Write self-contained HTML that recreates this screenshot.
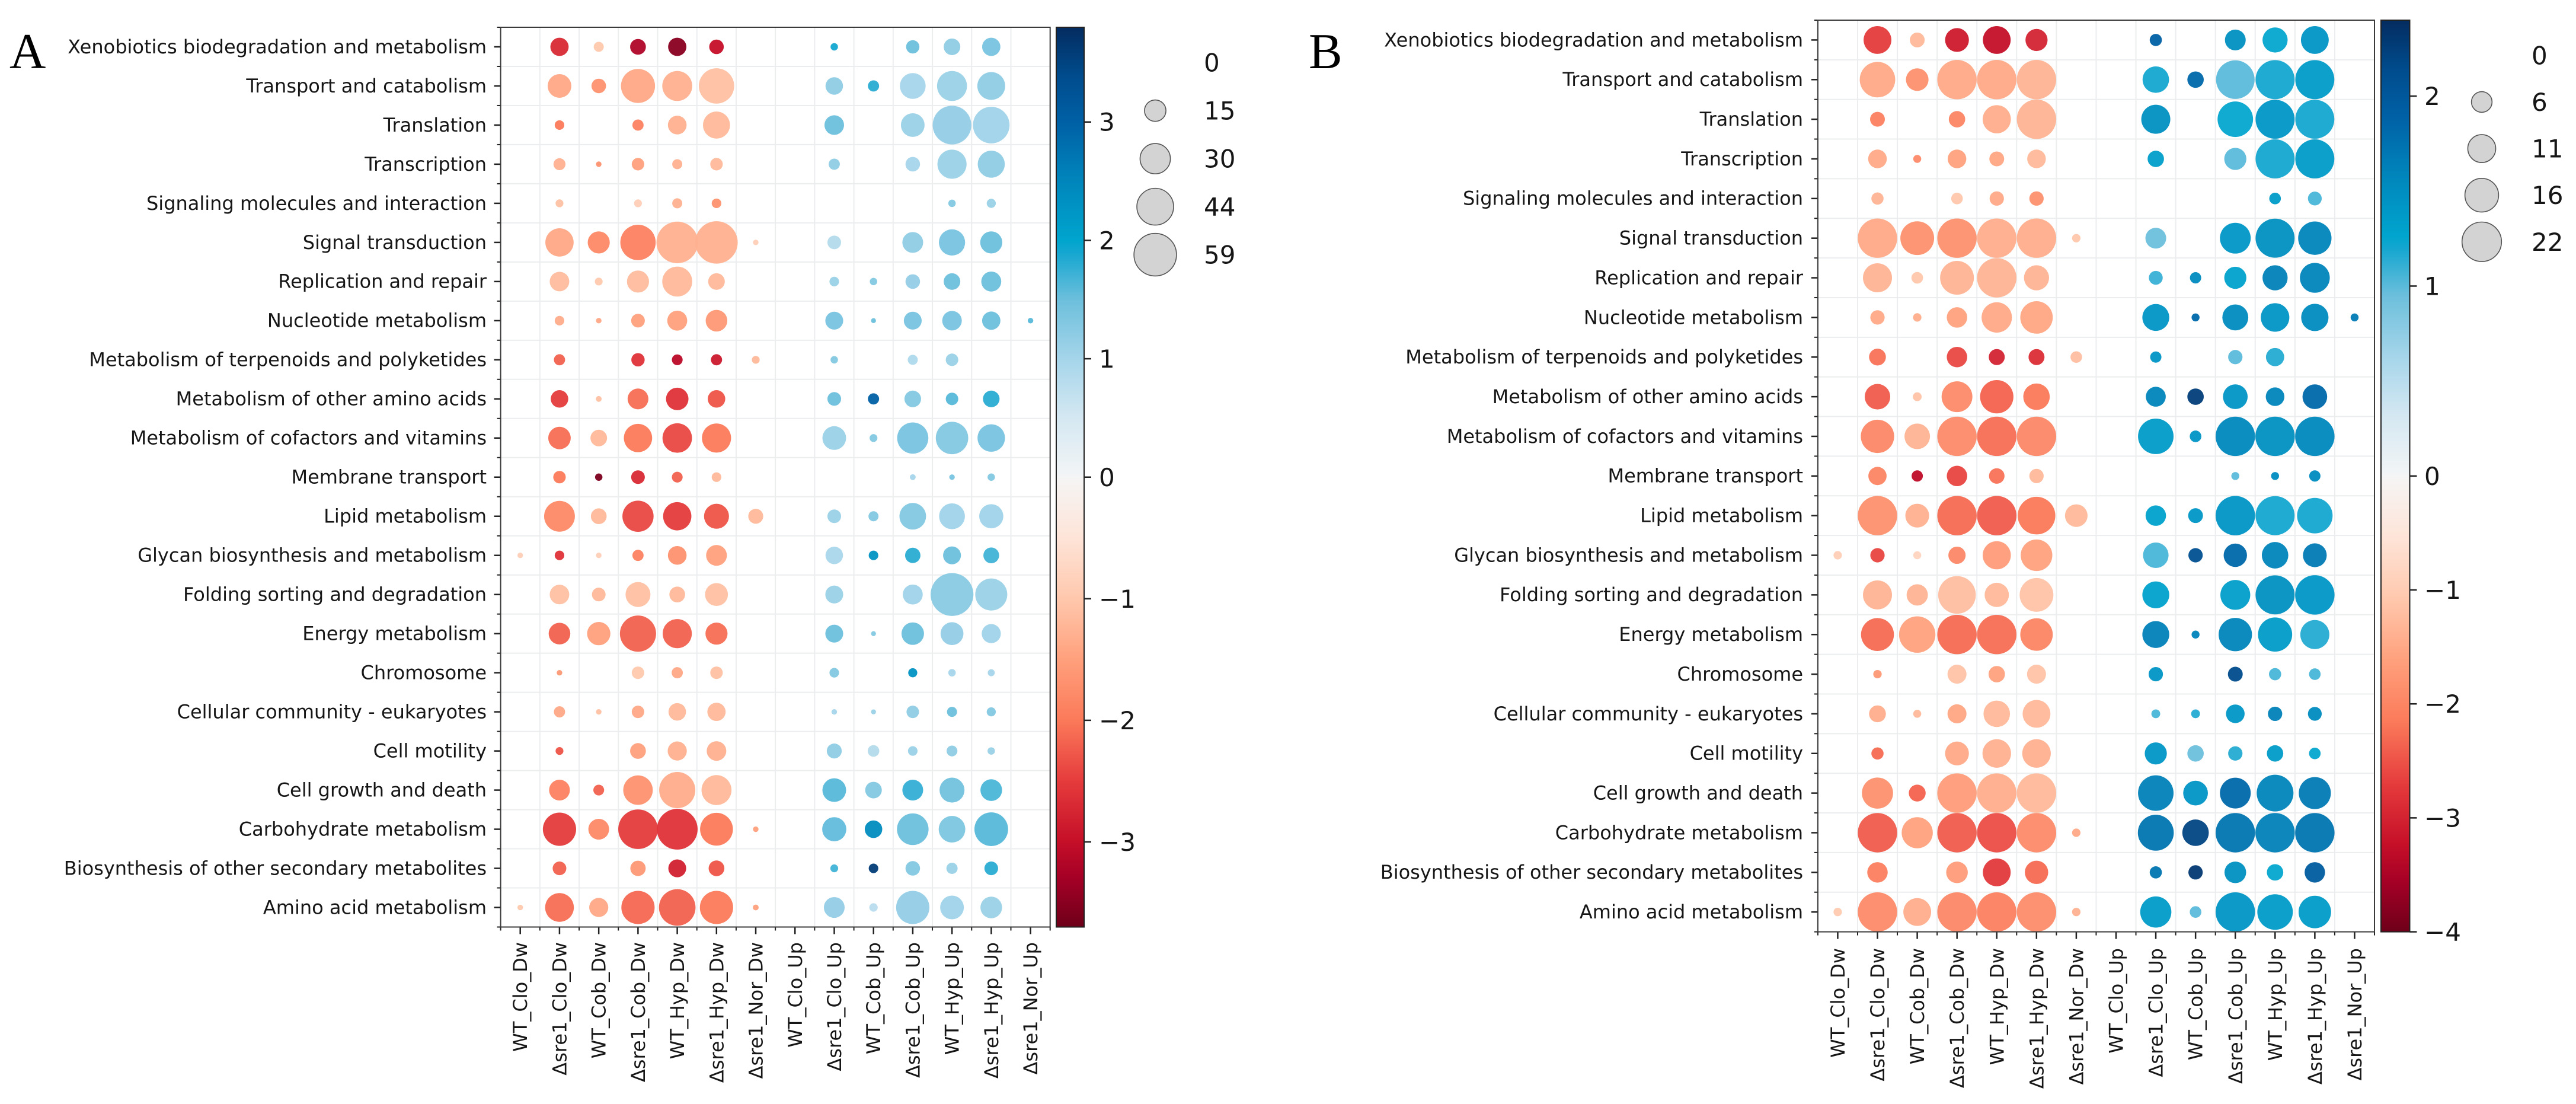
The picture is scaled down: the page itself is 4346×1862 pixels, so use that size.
<!DOCTYPE html>
<html lang="en">
<head>
<meta charset="utf-8">
<title>KEGG pathway bubble charts A and B</title>
<style>
html,body{margin:0;padding:0;background:#fff;width:4346px;height:1862px;overflow:hidden}
svg{display:block}
text{font-family:"DejaVu Sans","Liberation Sans",sans-serif;fill:#161616}
</style>
</head>
<body>
<svg id="figure" xmlns="http://www.w3.org/2000/svg" width="4346" height="1862" viewBox="0 0 4346 1862">
<rect width="4346" height="1862" fill="#fff"/>
<defs id="defs"></defs>
<text x="16" y="115" style="font-family:'Liberation Serif',serif;font-size:85px;fill:#000">A</text>
<text x="2208" y="115" style="font-family:'Liberation Serif',serif;font-size:85px;fill:#000">B</text>
</svg>
<script>
const pathways = ["Xenobiotics biodegradation and metabolism","Transport and catabolism","Translation","Transcription","Signaling molecules and interaction","Signal transduction","Replication and repair","Nucleotide metabolism","Metabolism of terpenoids and polyketides","Metabolism of other amino acids","Metabolism of cofactors and vitamins","Membrane transport","Lipid metabolism","Glycan biosynthesis and metabolism","Folding sorting and degradation","Energy metabolism","Chromosome","Cellular community - eukaryotes","Cell motility","Cell growth and death","Carbohydrate metabolism","Biosynthesis of other secondary metabolites","Amino acid metabolism"];
const conditions = ["WT_Clo_Dw","Δsre1_Clo_Dw","WT_Cob_Dw","Δsre1_Cob_Dw","WT_Hyp_Dw","Δsre1_Hyp_Dw","Δsre1_Nor_Dw","WT_Clo_Up","Δsre1_Clo_Up","WT_Cob_Up","Δsre1_Cob_Up","WT_Hyp_Up","Δsre1_Hyp_Up","Δsre1_Nor_Up"];

const countsA = [
[0,10.9,3.3,8.1,10.9,6.9,0,0,1.8,0,5.8,9,10.9,0],
[0,18.3,6.9,37.9,29.3,40.8,0,0,10,4.1,21.7,29.3,25.3,0],
[0,3,0,4.1,11.4,23.8,0,0,12.5,0,18.3,48.8,43.7,0],
[0,4.7,1,5.1,3.3,5.1,0,0,4.1,0,6.9,27.7,23.8,0],
[0,2,0,2,3.3,3,0,0,0,0,0,1.8,2.7,0],
[0,26.1,15.9,40.8,56.4,58.7,1,0,6.1,0,14.1,22.4,15.9,0],
[0,12.5,2,15.9,29.3,9,0,0,3,1.8,6.9,9,13,0],
[0,3,1,6.1,13,15.3,0,0,10.4,0.8,10.4,12.5,10.9,1],
[0,4.1,0,5.8,3.8,4.1,2,0,1.8,0,3.3,5.1,0,0],
[0,10,1.1,14.1,16.5,10,0,0,6.1,4.1,9,5.1,9,0],
[0,16.5,9,26.1,28.4,27.7,0,0,18.3,2,31.7,34.3,24.6,0],
[0,5.1,1.8,6.1,3.8,3,0,0,0,0,1.1,1,1.8,0],
[0,30.9,8.1,31.7,26.1,20.3,7.3,0,6.1,3.3,23.1,21.7,19,0],
[1,3,1,4.1,11.4,14.1,0,0,10,3,7.7,10.4,8.1,0],
[0,12.5,6.1,20.3,8.1,17.1,0,0,10.4,0,13,59.9,33.5,0],
[0,15.3,17.7,42.7,27.7,15.9,0,0,10.4,0.8,16.5,17.1,11.9,0],
[0,1,0,5.1,4.1,5.1,0,0,3,0,2.7,1.8,1.6,0],
[0,4.1,1,5.1,10,10.9,0,0,1,0.8,5.1,3.3,2.7,0],
[0,2,0,8.1,11.9,12.5,0,0,7.3,4.4,3,3.8,1.8,0],
[0,14.1,3.8,28.4,42.7,29.3,0,0,18.3,9,14.1,20.3,15.3,0],
[0,36.1,14.1,50.9,54.2,35.2,1,0,19,10,32.6,23.1,37,0],
[0,6.1,0,7.7,10.4,8.1,0,0,2,3,6.9,4.1,6.1,0],
[1,26.9,11.9,36.1,43.7,36.1,1.1,0,14.1,2.3,36.1,18.3,15.3,0]
];
const foldA = [
[0,-2.7,-1,-3.2,-3.5,-3,0,0,1.9,0,1.5,1.2,1.4,0],
[0,-1.4,-1.7,-1.4,-1.3,-1.1,0,0,1.2,1.8,1,1.1,1.2,0],
[0,-2,0,-1.9,-1.3,-1.2,0,0,1.5,0,1.1,1.15,1.05,0],
[0,-1.3,-1.7,-1.5,-1.3,-1.2,0,0,1.2,0,1,1.1,1.2,0],
[0,-1.1,0,-0.9,-1.3,-1.7,0,0,0,0,0,1.3,1.1,0],
[0,-1.4,-1.8,-1.9,-1.3,-1.3,-0.9,0,0.85,0,1.2,1.4,1.5,0],
[0,-1.15,-1,-1.15,-1.2,-1.2,0,0,1.1,1.3,1.15,1.5,1.5,0],
[0,-1.35,-1.4,-1.5,-1.5,-1.6,0,0,1.4,1.5,1.4,1.4,1.5,1.6],
[0,-2.2,0,-2.6,-3.1,-2.9,-1.2,0,1.3,0,0.9,1.1,0,0],
[0,-2.5,-1.1,-2.1,-2.6,-2.3,0,0,1.5,3,1.3,1.6,1.8,0],
[0,-2.1,-1.2,-2,-2.4,-2,0,0,1.1,1.3,1.4,1.3,1.4,0],
[0,-2,-3.6,-2.7,-2.2,-1.2,0,0,0,0,1,1.4,1.3,0],
[0,-1.8,-1.2,-2.4,-2.5,-2.3,-1.2,0,1.1,1.3,1.3,1.05,1.05,0],
[-0.9,-2.6,-0.9,-1.9,-1.7,-1.5,0,0,0.95,2.3,1.8,1.5,1.7,0],
[0,-1.1,-1.2,-1.1,-1.2,-1.1,0,0,1.1,0,1.05,1.25,1.1,0],
[0,-2.2,-1.5,-2.2,-2.2,-2.1,0,0,1.5,1.3,1.5,1.15,1.05,0],
[0,-1.6,0,-1,-1.4,-1.1,0,0,1.3,0,2.3,1,1,0],
[0,-1.4,-1.1,-1.4,-1.2,-1.2,0,0,1,1.1,1.2,1.5,1.3,0],
[0,-2.3,0,-1.5,-1.3,-1.3,0,0,1.2,0.85,1.1,1.2,1.1,0],
[0,-1.9,-2.2,-1.7,-1.35,-1.2,0,0,1.6,1.3,1.75,1.45,1.65,0],
[0,-2.5,-1.8,-2.5,-2.6,-2,-1.5,0,1.55,2.4,1.5,1.35,1.6,0],
[0,-2.2,0,-1.6,-2.8,-2.3,0,0,1.7,3.6,1.3,1.1,1.8,0],
[-1,-2.1,-1.4,-2.15,-2.2,-2,-1.5,0,1.15,0.8,1.15,1.05,1.1,0]
];
const countsB = [
[0,10.9,3.1,8,10.9,6.9,0,0,2.1,0,6.1,8.9,10.9,0],
[0,17.8,7.2,21.9,21.9,21.9,0,0,9.9,3.8,21,21.5,21.5,0],
[0,3.1,0,3.8,11.2,21.9,0,0,11.9,0,17.8,21.5,21.5,0],
[0,4.9,0.9,4.9,3.1,4.9,0,0,3.8,0,6.9,21.5,21.5,0],
[0,2.1,0,1.9,2.9,2.9,0,0,0,0,0,1.9,2.7,0],
[0,21.9,16.1,21.9,21.9,21.9,1,0,6.1,0,13.4,21.5,15.7,0],
[0,11.9,1.9,16.1,21.9,8.9,0,0,2.7,1.8,6.9,8.9,12.6,0],
[0,2.9,1,5.9,13,14.9,0,0,10.2,0.9,9.5,11.5,10.5,0.9],
[0,4,0,5.9,3.6,3.6,1.9,0,1.8,0,2.9,4.7,0,0],
[0,9.2,1.1,13.4,15.7,9.9,0,0,5.6,3.8,8.6,4.9,8.6,0],
[0,15.7,9.2,21.9,21.9,21.9,0,0,17.8,1.9,21.9,21.9,21.9,0],
[0,4.7,1.8,5.9,3.4,2.9,0,0,0,0,0.9,0.9,1.8,0],
[0,21.9,8,21.9,21.9,20,7.2,0,5.9,3.1,21.9,21.5,17.8,0],
[1,2.9,0.9,4.2,11.2,14.1,0,0,9.2,2.9,7.7,9.9,8,0],
[0,11.9,6.4,20,8.3,16.1,0,0,10.2,0,12.6,21.5,21.9,0],
[0,15.3,18.7,21.9,21.9,14.9,0,0,10.2,0.9,15.7,16.5,11.9,0],
[0,1,0,5.1,3.8,5.1,0,0,2.9,0,3.1,2.1,1.9,0],
[0,4,0.9,5.1,9.9,10.9,0,0,1.1,1.1,4.9,2.9,2.7,0],
[0,2.1,0,8,11.5,11.5,0,0,6.9,3.8,2.9,3.8,1.9,0],
[0,13.7,4,21.9,21.9,21.9,0,0,17.8,8.6,13.4,19.1,14.5,0],
[0,21.9,13.7,21.9,21.9,21.9,1,0,18.2,9.9,21.9,21.9,21.9,0],
[0,5.9,0,6.6,10.9,7.7,0,0,2.1,2.9,6.6,3.8,5.9,0],
[1,21.9,10.9,21.9,21.9,21.9,1,0,13.7,1.9,21.9,17.8,14.9,0]
];
const foldB = [
[0,-2.7,-1.3,-3.12,-3.25,-3,0,0,1.9,0,1.48,1.25,1.42,0],
[0,-1.5,-1.85,-1.5,-1.5,-1.37,0,0,1.2,1.83,1,1.2,1.36,0],
[0,-2.07,0,-2,-1.45,-1.37,0,0,1.48,0,1.25,1.4,1.2,0],
[0,-1.5,-1.93,-1.6,-1.55,-1.3,0,0,1.33,0,1,1.2,1.36,0],
[0,-1.37,0,-1.1,-1.5,-1.85,0,0,0,0,0,1.36,1.05,0],
[0,-1.5,-1.85,-1.85,-1.45,-1.45,-1.1,0,0.95,0,1.4,1.48,1.58,0],
[0,-1.37,-1.1,-1.37,-1.37,-1.37,0,0,1.1,1.52,1.3,1.62,1.58,0],
[0,-1.5,-1.45,-1.6,-1.5,-1.55,0,0,1.42,1.83,1.52,1.42,1.52,1.68],
[0,-2.23,0,-2.6,-3,-2.87,-1.22,0,1.42,0,1,1.15,0,0],
[0,-2.43,-1.15,-1.93,-2.37,-2.17,0,0,1.58,2.25,1.42,1.58,1.83,0],
[0,-1.97,-1.37,-1.93,-2.27,-1.97,0,0,1.36,1.42,1.55,1.48,1.55,0],
[0,-2,-3.3,-2.63,-2.23,-1.3,0,0,0,0,1,1.52,1.52,0],
[0,-1.85,-1.4,-2.3,-2.43,-2.17,-1.3,0,1.3,1.4,1.42,1.2,1.2,0],
[-0.95,-2.63,-0.85,-1.97,-1.67,-1.6,0,0,1.05,2.1,1.83,1.58,1.68,0],
[0,-1.37,-1.37,-1.22,-1.3,-1.15,0,0,1.3,0,1.33,1.48,1.4,0],
[0,-2.3,-1.6,-2.3,-2.27,-2,0,0,1.62,1.58,1.58,1.36,1.15,0],
[0,-1.73,0,-1.15,-1.6,-1.15,0,0,1.42,0,2.15,1.05,1.05,0],
[0,-1.45,-1.3,-1.55,-1.3,-1.3,0,0,1.05,1.15,1.4,1.62,1.52,0],
[0,-2.3,0,-1.5,-1.4,-1.4,0,0,1.4,0.95,1.15,1.36,1.25,0],
[0,-1.85,-2.37,-1.67,-1.45,-1.3,0,0,1.62,1.42,1.83,1.58,1.68,0],
[0,-2.43,-1.6,-2.43,-2.55,-1.93,-1.5,0,1.72,2.2,1.72,1.62,1.72,0],
[0,-2.1,0,-1.67,-2.73,-2.3,0,0,1.72,2.3,1.48,1.25,1.95,0],
[-1.05,-1.93,-1.45,-1.97,-2.07,-1.9,-1.4,0,1.36,1,1.42,1.36,1.36,0]
];
const colorTicksA = [3,2,1,0,-1,-2,-3];
const colorTicksB = [2,1,0,-1,-2,-3,-4];
const sizeLegendA = [0,15,30,44,59];
const sizeLegendB = [0,6,11,16,22];

const blueRamp = [[0,"#f3f5f6"],[0.13,"#d5e8f2"],[0.263,"#a5d5ea"],[0.395,"#6cbfdc"],[0.5,"#14a6d0"],[0.526,"#00a5ce"],[0.66,"#0085bb"],[0.79,"#0060a5"],[0.895,"#004b8c"],[1,"#042c60"]];
const redRamp = [[0,"#f5f5f5"],[0.135,"#fee4d8"],[0.27,"#ffc8ad"],[0.405,"#ffa07c"],[0.54,"#fb7a5a"],[0.676,"#e53b3c"],[0.81,"#c50f28"],[0.89,"#a50026"],[1,"#6e0019"]];

const svg = document.getElementById('figure');
const NS = 'http://www.w3.org/2000/svg';
function make(tag, attrs, parent, text){
  const el = document.createElementNS(NS, tag);
  for(const k in attrs){ el.setAttribute(k, attrs[k]); }
  if(text !== undefined){ el.textContent = text; }
  (parent || svg).appendChild(el);
  return el;
}
function hexRgb(h){ return [1,3,5].map(i => parseInt(h.substr(i,2),16)); }
function rampColor(ramp, t){
  t = Math.max(0, Math.min(1, t));
  for(let i = 1; i < ramp.length; i++){
    if(t <= ramp[i][0]){
      const a = ramp[i-1], b = ramp[i], f = (t-a[0])/(b[0]-a[0]);
      const ca = hexRgb(a[1]), cb = hexRgb(b[1]);
      return 'rgb(' + ca.map((c,j) => Math.round(c+(cb[j]-c)*f)).join(',') + ')';
    }
  }
  return ramp[ramp.length-1][1];
}
function drawPanel(p){
  const nc = conditions.length, nr = pathways.length;
  const xw = (p.right-p.left)/nc, yh = (p.bottom-p.top)/nr;
  const xScale = c => p.left + (c+0.5)*xw;
  const yScale = r => p.top + (r+0.5)*yh;
  const colorOf = v => v < 0 ? rampColor(redRamp, v/p.vmin) : rampColor(blueRamp, v/p.vmax);
  const radiusOf = n => p.sizeK*Math.sqrt(n);
  const colorY = v => v >= 0 ? p.cmid - v*(p.cmid-p.top)/p.vmax : p.cmid + v*(p.bottom-p.cmid)/p.vmin;

  const g = make('g', {}, svg);
  
  

  for(let c = 1; c < nc; c++){
    const x = p.left + c*xw;
    const line = make('line', {x1:x,x2:x,y1:p.top,y2:p.bottom,stroke:'#ebedee','stroke-width':2}, g);
    
    
  }
  for(let r = 1; r < nr; r++){
    const y = p.top + r*yh;
    const line = make('line', {x1:p.left,x2:p.right,y1:y,y2:y,stroke:'#ebedee','stroke-width':2}, g);
    
    
  }
  for(let r = 0; r <= nr; r++){
    const y = p.top + r*yh;
    const t = make('line', {x1:p.left-6,x2:p.left,y1:y,y2:y,stroke:'#222','stroke-width':2}, g);
    
    
  }
  for(let c = 0; c <= nc; c++){
    const x = p.left + c*xw;
    const t = make('line', {x1:x,x2:x,y1:p.bottom,y2:p.bottom+6,stroke:'#222','stroke-width':2}, g);
    
    
  }
  pathways.forEach((name, r) => {
    const y = yScale(r);
    const t = make('line', {x1:p.left-11,x2:p.left,y1:y,y2:y,stroke:'#222','stroke-width':2.5}, g);
    
    
    const lab = make('text', {x:p.labelX,y:y,dy:'0.34em','text-anchor':'end','font-size':p.fontSize}, g, name);
    
    
  });
  conditions.forEach((name, c) => {
    const x = xScale(c);
    const t = make('line', {x1:x,x2:x,y1:p.bottom,y2:p.bottom+12,stroke:'#222','stroke-width':2.5}, g);
    
    
    const lab = make('text', {transform:'translate('+x+','+p.xLabelTop+') rotate(-90)',dy:'0.36em','text-anchor':'end','font-size':p.fontSize}, g, name);
    
    
  });
  p.counts.forEach((row, r) => {
    row.forEach((n, c) => {
      if(n <= 0) return;
      const dot = make('circle', {cx:xScale(c),cy:yScale(r),r:radiusOf(n),fill:colorOf(p.fold[r][c]),'fill-opacity':0.95}, g);
      
      
    });
  });
  const frame = make('rect', {x:p.left,y:p.top,width:p.right-p.left,height:p.bottom-p.top,fill:'none',stroke:'#3a3a3a','stroke-width':2}, g);
  
  

  // colorbar
  const defs = document.getElementById('defs');
  const grad = make('linearGradient', {id:'grad'+p.id,x1:0,y1:0,x2:0,y2:1}, defs);
  const total = p.bottom-p.top;
  blueRamp.slice().reverse().forEach(s => {
    make('stop', {offset:(colorY(s[0]*p.vmax)-p.top)/total,'stop-color':s[1]}, grad);
  });
  redRamp.forEach(s => {
    make('stop', {offset:(colorY(s[0]*p.vmin)-p.top)/total,'stop-color':s[1]}, grad);
  });
  const bar = make('rect', {x:p.cbLeft,y:p.top,width:p.cbRight-p.cbLeft,height:total,fill:'url(#grad'+p.id+')',stroke:'#222','stroke-width':2}, g);
  
  
  p.colorTicks.forEach(v => {
    const y = colorY(v);
    const t = make('line', {x1:p.cbRight,x2:p.cbRight+12,y1:y,y2:y,stroke:'#222','stroke-width':2.5}, g);
    
    
    const lab = make('text', {x:p.cbLabelX,y:y+15,'font-size':42}, g, v < 0 ? '\u2212' + (-v) : String(v));
    
    
  });

  // size legend
  p.sizes.forEach((n, i) => {
    const y = p.legendTop + i*p.legendStep;
    if(n > 0){
      const c = make('circle', {cx:p.legendX,cy:y,r:radiusOf(n),fill:'#d3d3d3',stroke:'#555','stroke-width':1.6}, g);
      
      
    }
    const lab = make('text', {x:p.legendLabelX,y:y+15,'font-size':42}, g, String(n));
    
    
  });
}
drawPanel({id:'A',counts:countsA,fold:foldA,colorTicks:colorTicksA,sizes:sizeLegendA,left:844.6,right:1771.7,top:46,bottom:1563.5,cmid:804.75,vmin:-3.7,vmax:3.8,sizeK:4.67,labelX:821,xLabelTop:1589,fontSize:32,cbLeft:1782,cbRight:1829,cbLabelX:1854,legendX:1949,legendLabelX:2031,legendTop:105.6,legendStep:81});
drawPanel({id:'B',counts:countsB,fold:foldB,colorTicks:colorTicksB,sizes:sizeLegendB,left:3066.9,right:4006,top:34,bottom:1571.6,cmid:802.8,vmin:-4,vmax:2.4,sizeK:7.1,labelX:3042,xLabelTop:1599,fontSize:32,cbLeft:4017,cbRight:4065.5,cbLabelX:4090,legendX:4187,legendLabelX:4271,legendTop:93.4,legendStep:78.6});
</script>
</body>
</html>
